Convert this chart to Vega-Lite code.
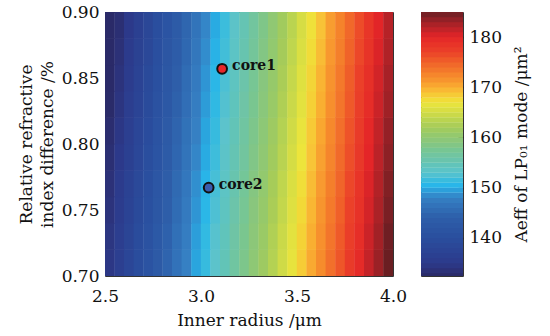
{
"$schema":"https://vega.github.io/schema/vega-lite/v6.json",
"padding":{"left":16,"top":2,"right":5,"bottom":2},
"background":"white",
"bounds":"flush",
"spacing":28,
"config":{"font":"DejaVu Serif","view":{"stroke":"#333","strokeWidth":1},
"axis":{"labelFont":"DejaVu Serif","titleFont":"DejaVu Serif","labelFontSize":17,"titleFontSize":17,"labelColor":"#111","titleColor":"#111","titleFontWeight":"normal","domain":false,"grid":false}},
"datasets":{
"grid":[
{"x":2.525,"y":0.71,"v":134.6},{"x":2.575,"y":0.71,"v":136.3},{"x":2.625,"y":0.71,"v":138.0},{"x":2.675,"y":0.71,"v":139.7},{"x":2.725,"y":0.71,"v":141.3},{"x":2.775,"y":0.71,"v":143.0},{"x":2.825,"y":0.71,"v":144.7},{"x":2.875,"y":0.71,"v":146.4},{"x":2.925,"y":0.71,"v":148.0},{"x":2.975,"y":0.71,"v":149.7},{"x":3.025,"y":0.71,"v":151.4},{"x":3.075,"y":0.71,"v":153.1},{"x":3.125,"y":0.71,"v":154.7},{"x":3.175,"y":0.71,"v":156.4},{"x":3.225,"y":0.71,"v":158.1},{"x":3.275,"y":0.71,"v":159.8},{"x":3.325,"y":0.71,"v":161.4},{"x":3.375,"y":0.71,"v":163.1},{"x":3.425,"y":0.71,"v":164.8},{"x":3.475,"y":0.71,"v":166.6},{"x":3.525,"y":0.71,"v":168.4},{"x":3.575,"y":0.71,"v":170.3},{"x":3.625,"y":0.71,"v":172.1},{"x":3.675,"y":0.71,"v":174.0},{"x":3.725,"y":0.71,"v":175.8},{"x":3.775,"y":0.71,"v":177.7},{"x":3.825,"y":0.71,"v":179.5},{"x":3.875,"y":0.71,"v":181.4},{"x":3.925,"y":0.71,"v":183.2},{"x":3.975,"y":0.71,"v":185.1},
{"x":2.525,"y":0.73,"v":134.3},{"x":2.575,"y":0.73,"v":136.0},{"x":2.625,"y":0.73,"v":137.7},{"x":2.675,"y":0.73,"v":139.4},{"x":2.725,"y":0.73,"v":141.0},{"x":2.775,"y":0.73,"v":142.7},{"x":2.825,"y":0.73,"v":144.4},{"x":2.875,"y":0.73,"v":146.1},{"x":2.925,"y":0.73,"v":147.7},{"x":2.975,"y":0.73,"v":149.4},{"x":3.025,"y":0.73,"v":151.1},{"x":3.075,"y":0.73,"v":152.8},{"x":3.125,"y":0.73,"v":154.4},{"x":3.175,"y":0.73,"v":156.1},{"x":3.225,"y":0.73,"v":157.8},{"x":3.275,"y":0.73,"v":159.5},{"x":3.325,"y":0.73,"v":161.1},{"x":3.375,"y":0.73,"v":162.8},{"x":3.425,"y":0.73,"v":164.5},{"x":3.475,"y":0.73,"v":166.3},{"x":3.525,"y":0.73,"v":168.1},{"x":3.575,"y":0.73,"v":170.0},{"x":3.625,"y":0.73,"v":171.8},{"x":3.675,"y":0.73,"v":173.7},{"x":3.725,"y":0.73,"v":175.5},{"x":3.775,"y":0.73,"v":177.4},{"x":3.825,"y":0.73,"v":179.2},{"x":3.875,"y":0.73,"v":181.1},{"x":3.925,"y":0.73,"v":182.9},{"x":3.975,"y":0.73,"v":184.8},
{"x":2.525,"y":0.75,"v":133.9},{"x":2.575,"y":0.75,"v":135.6},{"x":2.625,"y":0.75,"v":137.3},{"x":2.675,"y":0.75,"v":139.0},{"x":2.725,"y":0.75,"v":140.6},{"x":2.775,"y":0.75,"v":142.3},{"x":2.825,"y":0.75,"v":144.0},{"x":2.875,"y":0.75,"v":145.7},{"x":2.925,"y":0.75,"v":147.3},{"x":2.975,"y":0.75,"v":149.0},{"x":3.025,"y":0.75,"v":150.7},{"x":3.075,"y":0.75,"v":152.4},{"x":3.125,"y":0.75,"v":154.0},{"x":3.175,"y":0.75,"v":155.7},{"x":3.225,"y":0.75,"v":157.4},{"x":3.275,"y":0.75,"v":159.1},{"x":3.325,"y":0.75,"v":160.7},{"x":3.375,"y":0.75,"v":162.4},{"x":3.425,"y":0.75,"v":164.1},{"x":3.475,"y":0.75,"v":165.9},{"x":3.525,"y":0.75,"v":167.7},{"x":3.575,"y":0.75,"v":169.6},{"x":3.625,"y":0.75,"v":171.4},{"x":3.675,"y":0.75,"v":173.3},{"x":3.725,"y":0.75,"v":175.1},{"x":3.775,"y":0.75,"v":177.0},{"x":3.825,"y":0.75,"v":178.8},{"x":3.875,"y":0.75,"v":180.7},{"x":3.925,"y":0.75,"v":182.5},{"x":3.975,"y":0.75,"v":184.4},
{"x":2.525,"y":0.77,"v":133.6},{"x":2.575,"y":0.77,"v":135.3},{"x":2.625,"y":0.77,"v":137.0},{"x":2.675,"y":0.77,"v":138.7},{"x":2.725,"y":0.77,"v":140.3},{"x":2.775,"y":0.77,"v":142.0},{"x":2.825,"y":0.77,"v":143.7},{"x":2.875,"y":0.77,"v":145.4},{"x":2.925,"y":0.77,"v":147.0},{"x":2.975,"y":0.77,"v":148.7},{"x":3.025,"y":0.77,"v":150.4},{"x":3.075,"y":0.77,"v":152.1},{"x":3.125,"y":0.77,"v":153.7},{"x":3.175,"y":0.77,"v":155.4},{"x":3.225,"y":0.77,"v":157.1},{"x":3.275,"y":0.77,"v":158.8},{"x":3.325,"y":0.77,"v":160.4},{"x":3.375,"y":0.77,"v":162.1},{"x":3.425,"y":0.77,"v":163.8},{"x":3.475,"y":0.77,"v":165.6},{"x":3.525,"y":0.77,"v":167.4},{"x":3.575,"y":0.77,"v":169.3},{"x":3.625,"y":0.77,"v":171.1},{"x":3.675,"y":0.77,"v":173.0},{"x":3.725,"y":0.77,"v":174.8},{"x":3.775,"y":0.77,"v":176.7},{"x":3.825,"y":0.77,"v":178.5},{"x":3.875,"y":0.77,"v":180.4},{"x":3.925,"y":0.77,"v":182.2},{"x":3.975,"y":0.77,"v":184.1},
{"x":2.525,"y":0.79,"v":133.2},{"x":2.575,"y":0.79,"v":134.9},{"x":2.625,"y":0.79,"v":136.6},{"x":2.675,"y":0.79,"v":138.3},{"x":2.725,"y":0.79,"v":139.9},{"x":2.775,"y":0.79,"v":141.6},{"x":2.825,"y":0.79,"v":143.3},{"x":2.875,"y":0.79,"v":145.0},{"x":2.925,"y":0.79,"v":146.6},{"x":2.975,"y":0.79,"v":148.3},{"x":3.025,"y":0.79,"v":150.0},{"x":3.075,"y":0.79,"v":151.7},{"x":3.125,"y":0.79,"v":153.3},{"x":3.175,"y":0.79,"v":155.0},{"x":3.225,"y":0.79,"v":156.7},{"x":3.275,"y":0.79,"v":158.4},{"x":3.325,"y":0.79,"v":160.0},{"x":3.375,"y":0.79,"v":161.7},{"x":3.425,"y":0.79,"v":163.4},{"x":3.475,"y":0.79,"v":165.2},{"x":3.525,"y":0.79,"v":167.0},{"x":3.575,"y":0.79,"v":168.9},{"x":3.625,"y":0.79,"v":170.7},{"x":3.675,"y":0.79,"v":172.6},{"x":3.725,"y":0.79,"v":174.4},{"x":3.775,"y":0.79,"v":176.3},{"x":3.825,"y":0.79,"v":178.1},{"x":3.875,"y":0.79,"v":180.0},{"x":3.925,"y":0.79,"v":181.8},{"x":3.975,"y":0.79,"v":183.7},
{"x":2.525,"y":0.81,"v":132.9},{"x":2.575,"y":0.81,"v":134.6},{"x":2.625,"y":0.81,"v":136.3},{"x":2.675,"y":0.81,"v":138.0},{"x":2.725,"y":0.81,"v":139.6},{"x":2.775,"y":0.81,"v":141.3},{"x":2.825,"y":0.81,"v":143.0},{"x":2.875,"y":0.81,"v":144.7},{"x":2.925,"y":0.81,"v":146.3},{"x":2.975,"y":0.81,"v":148.0},{"x":3.025,"y":0.81,"v":149.7},{"x":3.075,"y":0.81,"v":151.4},{"x":3.125,"y":0.81,"v":153.0},{"x":3.175,"y":0.81,"v":154.7},{"x":3.225,"y":0.81,"v":156.4},{"x":3.275,"y":0.81,"v":158.1},{"x":3.325,"y":0.81,"v":159.7},{"x":3.375,"y":0.81,"v":161.4},{"x":3.425,"y":0.81,"v":163.1},{"x":3.475,"y":0.81,"v":164.9},{"x":3.525,"y":0.81,"v":166.7},{"x":3.575,"y":0.81,"v":168.6},{"x":3.625,"y":0.81,"v":170.4},{"x":3.675,"y":0.81,"v":172.3},{"x":3.725,"y":0.81,"v":174.1},{"x":3.775,"y":0.81,"v":176.0},{"x":3.825,"y":0.81,"v":177.8},{"x":3.875,"y":0.81,"v":179.7},{"x":3.925,"y":0.81,"v":181.5},{"x":3.975,"y":0.81,"v":183.4},
{"x":2.525,"y":0.83,"v":132.5},{"x":2.575,"y":0.83,"v":134.2},{"x":2.625,"y":0.83,"v":135.9},{"x":2.675,"y":0.83,"v":137.6},{"x":2.725,"y":0.83,"v":139.2},{"x":2.775,"y":0.83,"v":140.9},{"x":2.825,"y":0.83,"v":142.6},{"x":2.875,"y":0.83,"v":144.3},{"x":2.925,"y":0.83,"v":145.9},{"x":2.975,"y":0.83,"v":147.6},{"x":3.025,"y":0.83,"v":149.3},{"x":3.075,"y":0.83,"v":151.0},{"x":3.125,"y":0.83,"v":152.6},{"x":3.175,"y":0.83,"v":154.3},{"x":3.225,"y":0.83,"v":156.0},{"x":3.275,"y":0.83,"v":157.7},{"x":3.325,"y":0.83,"v":159.3},{"x":3.375,"y":0.83,"v":161.0},{"x":3.425,"y":0.83,"v":162.7},{"x":3.475,"y":0.83,"v":164.5},{"x":3.525,"y":0.83,"v":166.3},{"x":3.575,"y":0.83,"v":168.2},{"x":3.625,"y":0.83,"v":170.0},{"x":3.675,"y":0.83,"v":171.9},{"x":3.725,"y":0.83,"v":173.7},{"x":3.775,"y":0.83,"v":175.6},{"x":3.825,"y":0.83,"v":177.4},{"x":3.875,"y":0.83,"v":179.3},{"x":3.925,"y":0.83,"v":181.1},{"x":3.975,"y":0.83,"v":183.0},
{"x":2.525,"y":0.85,"v":132.2},{"x":2.575,"y":0.85,"v":133.9},{"x":2.625,"y":0.85,"v":135.6},{"x":2.675,"y":0.85,"v":137.3},{"x":2.725,"y":0.85,"v":138.9},{"x":2.775,"y":0.85,"v":140.6},{"x":2.825,"y":0.85,"v":142.3},{"x":2.875,"y":0.85,"v":144.0},{"x":2.925,"y":0.85,"v":145.6},{"x":2.975,"y":0.85,"v":147.3},{"x":3.025,"y":0.85,"v":149.0},{"x":3.075,"y":0.85,"v":150.7},{"x":3.125,"y":0.85,"v":152.3},{"x":3.175,"y":0.85,"v":154.0},{"x":3.225,"y":0.85,"v":155.7},{"x":3.275,"y":0.85,"v":157.4},{"x":3.325,"y":0.85,"v":159.0},{"x":3.375,"y":0.85,"v":160.7},{"x":3.425,"y":0.85,"v":162.4},{"x":3.475,"y":0.85,"v":164.2},{"x":3.525,"y":0.85,"v":166.0},{"x":3.575,"y":0.85,"v":167.9},{"x":3.625,"y":0.85,"v":169.7},{"x":3.675,"y":0.85,"v":171.6},{"x":3.725,"y":0.85,"v":173.4},{"x":3.775,"y":0.85,"v":175.3},{"x":3.825,"y":0.85,"v":177.1},{"x":3.875,"y":0.85,"v":179.0},{"x":3.925,"y":0.85,"v":180.8},{"x":3.975,"y":0.85,"v":182.7},
{"x":2.525,"y":0.87,"v":131.8},{"x":2.575,"y":0.87,"v":133.5},{"x":2.625,"y":0.87,"v":135.2},{"x":2.675,"y":0.87,"v":136.9},{"x":2.725,"y":0.87,"v":138.5},{"x":2.775,"y":0.87,"v":140.2},{"x":2.825,"y":0.87,"v":141.9},{"x":2.875,"y":0.87,"v":143.6},{"x":2.925,"y":0.87,"v":145.2},{"x":2.975,"y":0.87,"v":146.9},{"x":3.025,"y":0.87,"v":148.6},{"x":3.075,"y":0.87,"v":150.3},{"x":3.125,"y":0.87,"v":151.9},{"x":3.175,"y":0.87,"v":153.6},{"x":3.225,"y":0.87,"v":155.3},{"x":3.275,"y":0.87,"v":157.0},{"x":3.325,"y":0.87,"v":158.6},{"x":3.375,"y":0.87,"v":160.3},{"x":3.425,"y":0.87,"v":162.0},{"x":3.475,"y":0.87,"v":163.8},{"x":3.525,"y":0.87,"v":165.6},{"x":3.575,"y":0.87,"v":167.5},{"x":3.625,"y":0.87,"v":169.3},{"x":3.675,"y":0.87,"v":171.2},{"x":3.725,"y":0.87,"v":173.0},{"x":3.775,"y":0.87,"v":174.9},{"x":3.825,"y":0.87,"v":176.7},{"x":3.875,"y":0.87,"v":178.6},{"x":3.925,"y":0.87,"v":180.4},{"x":3.975,"y":0.87,"v":182.3},
{"x":2.525,"y":0.89,"v":131.5},{"x":2.575,"y":0.89,"v":133.2},{"x":2.625,"y":0.89,"v":134.9},{"x":2.675,"y":0.89,"v":136.6},{"x":2.725,"y":0.89,"v":138.2},{"x":2.775,"y":0.89,"v":139.9},{"x":2.825,"y":0.89,"v":141.6},{"x":2.875,"y":0.89,"v":143.3},{"x":2.925,"y":0.89,"v":144.9},{"x":2.975,"y":0.89,"v":146.6},{"x":3.025,"y":0.89,"v":148.3},{"x":3.075,"y":0.89,"v":150.0},{"x":3.125,"y":0.89,"v":151.6},{"x":3.175,"y":0.89,"v":153.3},{"x":3.225,"y":0.89,"v":155.0},{"x":3.275,"y":0.89,"v":156.7},{"x":3.325,"y":0.89,"v":158.3},{"x":3.375,"y":0.89,"v":160.0},{"x":3.425,"y":0.89,"v":161.7},{"x":3.475,"y":0.89,"v":163.5},{"x":3.525,"y":0.89,"v":165.3},{"x":3.575,"y":0.89,"v":167.2},{"x":3.625,"y":0.89,"v":169.0},{"x":3.675,"y":0.89,"v":170.9},{"x":3.725,"y":0.89,"v":172.7},{"x":3.775,"y":0.89,"v":174.6},{"x":3.825,"y":0.89,"v":176.4},{"x":3.875,"y":0.89,"v":178.3},{"x":3.925,"y":0.89,"v":180.1},{"x":3.975,"y":0.89,"v":182.0}
],
"cores":[{"x":3.11,"y":0.857,"name":"core1"},{"x":3.04,"y":0.767,"name":"core2"}],
"bar":[{"v":132.5},{"v":133.5},{"v":134.5},{"v":135.5},{"v":136.5},{"v":137.5},{"v":138.5},{"v":139.5},{"v":140.5},{"v":141.5},{"v":142.5},{"v":143.5},{"v":144.5},{"v":145.5},{"v":146.5},{"v":147.5},{"v":148.5},{"v":149.5},{"v":150.5},{"v":151.5},{"v":152.5},{"v":153.5},{"v":154.5},{"v":155.5},{"v":156.5},{"v":157.5},{"v":158.5},{"v":159.5},{"v":160.5},{"v":161.5},{"v":162.5},{"v":163.5},{"v":164.5},{"v":165.5},{"v":166.5},{"v":167.5},{"v":168.5},{"v":169.5},{"v":170.5},{"v":171.5},{"v":172.5},{"v":173.5},{"v":174.5},{"v":175.5},{"v":176.5},{"v":177.5},{"v":178.5},{"v":179.5},{"v":180.5},{"v":181.5},{"v":182.5},{"v":183.5},{"v":184.5}]
},
"hconcat":[
{"width":288,"height":264,
"layer":[
{"data":{"name":"grid"},"mark":{"type":"rect","width":10,"height":27,"clip":true},
"encoding":{
"x":{"field":"x","type":"quantitative","scale":{"domain":[2.5,4.0],"nice":false,"zero":false},"axis":{"values":[2.5,3,3.5,4],"format":".1f","title":"Inner radius /μm","ticks":false,"labelPadding":12,"titlePadding":8,"labelFlush":false}},
"y":{"field":"y","type":"quantitative","scale":{"domain":[0.7,0.9],"nice":false,"zero":false},"axis":{"values":[0.7,0.75,0.8,0.85,0.9],"format":".2f","title":["Relative refractive","index difference /%"],"ticks":false,"labelPadding":6,"titlePadding":5,"titleLineHeight":21,"labelFlush":false}},
"color":{"field":"v","type":"quantitative","legend":null,"scale":{"type":"linear","clamp":true,"domain":[132.4,135,140,144,148,150.5,153,156,159,162,165,167,169,171,174,177,180,183,185],"range":["#2a2a68","#2c3a8b","#2a4e9e","#2e5ea9","#3680c3","#29b6e9","#5cc3cc","#6fc4a6","#88c67e","#a5cb5a","#d2dc45","#ede53b","#f8c237","#f89b30","#f2702b","#eb4129","#e42528","#a02126","#6a1e22"]}}
}},
{"data":{"name":"cores"},"mark":{"type":"point","filled":true,"size":95,"stroke":"#111","strokeWidth":2,"opacity":1},
"encoding":{"x":{"field":"x","type":"quantitative"},"y":{"field":"y","type":"quantitative"},
"fill":{"field":"name","type":"nominal","legend":null,"scale":{"domain":["core1","core2"],"range":["#e8262a","#3a5cae"]}}}},
{"data":{"name":"cores"},"mark":{"type":"text","align":"left","baseline":"middle","dx":10,"dy":-3,"fontWeight":"bold","fontSize":14,"font":"DejaVu Serif","color":"#111"},
"encoding":{"x":{"field":"x","type":"quantitative"},"y":{"field":"y","type":"quantitative"},"text":{"field":"name"}}}
]},
{"width":42,"height":264,"data":{"name":"bar"},
"mark":{"type":"rect","height":5.4,"clip":true},
"encoding":{
"y":{"field":"v","type":"quantitative","scale":{"domain":[132.4,185],"nice":false,"zero":false},"axis":{"orient":"right","values":[140,150,160,170,180],"tickSize":-5,"tickColor":"#222","tickWidth":1.5,"labelPadding":11,"title":"Aeff of LP₀₁ mode /μm²","titleAngle":270,"titleBaseline":"top","titlePadding":12}},
"color":{"field":"v","type":"quantitative","legend":null,"scale":{"type":"linear","clamp":true,"domain":[132.4,135,140,144,148,150.5,153,156,159,162,165,167,169,171,174,177,180,183,185],"range":["#2a2a68","#2c3a8b","#2a4e9e","#2e5ea9","#3680c3","#29b6e9","#5cc3cc","#6fc4a6","#88c67e","#a5cb5a","#d2dc45","#ede53b","#f8c237","#f89b30","#f2702b","#eb4129","#e42528","#a02126","#6a1e22"]}}
}}
]
}
